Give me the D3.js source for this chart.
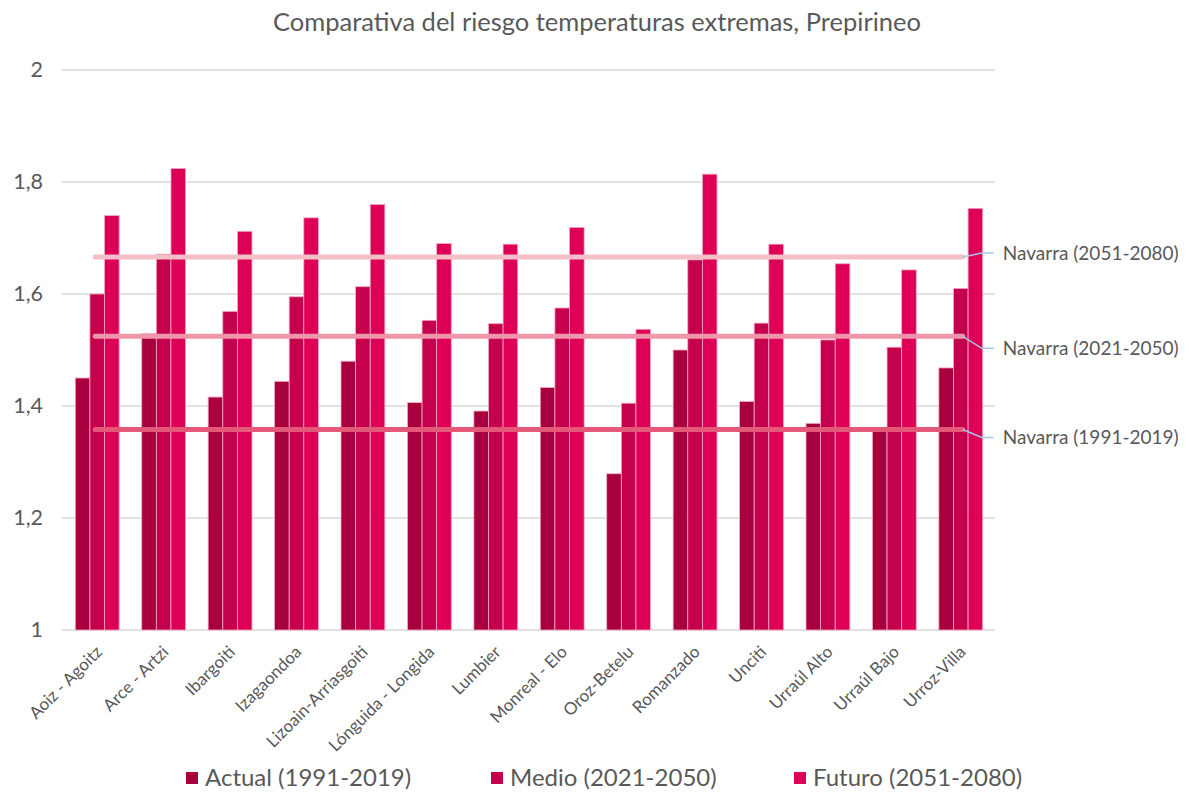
<!DOCTYPE html>
<html>
<head>
<meta charset="utf-8">
<script src="https://cdn.jsdelivr.net/npm/d3@7"></script>
<style>
  html, body { margin: 0; padding: 0; background: #fff; }
  svg { display: block; font-family: Lato, "Open Sans", sans-serif; }
</style>
</head>
<body>
<svg id="chart" width="1191" height="793"></svg>
<script>
// Municipios del Prepirineo
const municipios = [
  "Aoiz - Agoitz", "Arce - Artzi", "Ibargoiti", "Izagaondoa",
  "Lizoain-Arriasgoiti", "Lónguida - Longida", "Lumbier", "Monreal - Elo",
  "Oroz-Betelu", "Romanzado", "Unciti", "Urraúl Alto", "Urraúl Bajo", "Urroz-Villa"
];

// Índice de riesgo por periodo
const actual = [1.45, 1.529, 1.416, 1.444, 1.48, 1.406, 1.391, 1.433, 1.279, 1.50, 1.408, 1.369, 1.36, 1.468];
const medio  = [1.60, 1.671, 1.569, 1.595, 1.613, 1.553, 1.547, 1.575, 1.405, 1.661, 1.548, 1.518, 1.505, 1.61];
const futuro = [1.74, 1.824, 1.712, 1.736, 1.76, 1.69, 1.689, 1.719, 1.537, 1.814, 1.689, 1.654, 1.643, 1.753];

const seriesNames = ["Actual (1991-2019)", "Medio (2021-2050)", "Futuro (2051-2080)"];

// Media de Navarra por periodo
const navarraNames = ["Navarra (1991-2019)", "Navarra (2021-2050)", "Navarra (2051-2080)"];
const navarraValues = [1.358, 1.5245, 1.666];

const yTicks = [1, 1.2, 1.4, 1.6, 1.8, 2];

const seriesColors = ["#a8003f", "#c5004c", "#de0057"];
const navarraColors = ["#e4587a", "#ef96aa", "#f5bfca"];
const textColor = "#595959";
const fontFamily = "Lato, 'Open Sans', sans-serif";

const svg = d3.select("#chart");
const margin = { left: 64, right: 994, top: 70, bottom: 630 };

const x = d3.scaleBand().domain(municipios).range([margin.left, margin.right]).paddingInner(0.34).paddingOuter(0.17);
const xs = d3.scaleBand().domain(d3.range(3)).range([0, x.bandwidth()]);
const y = d3.scaleLinear().domain([1, 2]).range([margin.bottom, margin.top]);

// Título
svg.append("text")
  .attr("x", 597).attr("y", 31)
  .attr("text-anchor", "middle")
  .attr("fill", textColor)
  .attr("font-size", 25.5)
  .text("Comparativa del riesgo temperaturas extremas, Prepirineo");

// Líneas de cuadrícula
svg.append("g")
  .selectAll("line")
  .data(yTicks)
  .join("line")
  .attr("x1", 62).attr("x2", 995)
  .attr("y1", d => y(d)).attr("y2", d => y(d))
  .attr("stroke", "#d9d9d9")
  .attr("stroke-width", 1.5);

// Eje Y
const yAxis = svg.append("g")
  .attr("transform", "translate(43,0)")
  .call(d3.axisLeft(y).tickValues(yTicks).tickSize(0).tickPadding(0)
    .tickFormat(d => d3.format(".1f")(d).replace(".", ",").replace(/,0$/, "")));
yAxis.select(".domain").remove();
yAxis.selectAll("text")
  .attr("fill", textColor)
  .attr("font-size", 21.5)
  .attr("font-family", fontFamily);

// Barras
const rows = municipios.map((m, i) => ({ m, vals: [actual[i], medio[i], futuro[i]] }));
svg.append("g")
  .selectAll("g")
  .data(rows)
  .join("g")
  .attr("transform", d => `translate(${x(d.m)},0)`)
  .selectAll("rect")
  .data(d => d.vals.map((v, k) => ({ v, k })))
  .join("rect")
  .attr("x", d => xs(d.k))
  .attr("width", xs.bandwidth())
  .attr("y", d => y(d.v))
  .attr("height", d => y(1) - y(d.v))
  .attr("fill", d => seriesColors[d.k])
  .attr("stroke", "#f5a9c2")
  .attr("stroke-width", 0.8);

// Eje X
const xAxis = svg.append("g")
  .attr("transform", `translate(0,${margin.bottom})`)
  .call(d3.axisBottom(x).tickSize(0).tickPadding(0));
xAxis.select(".domain").remove();
xAxis.selectAll("text")
  .attr("fill", textColor)
  .attr("font-size", 17)
  .attr("font-family", fontFamily)
  .attr("text-anchor", "end")
  .attr("dy", 0)
  .attr("transform", "translate(6,23) rotate(-45)");

// Líneas de referencia de Navarra
const xStart = x(municipios[0]) + x.bandwidth() / 2 - 2;
const xEnd = x(municipios[municipios.length - 1]) + x.bandwidth() / 2 + 2;
const labelShift = [8, 12, -4];

const nav = svg.append("g");
navarraValues.forEach((v, i) => {
  nav.append("line")
    .attr("x1", xStart).attr("x2", xEnd)
    .attr("y1", y(v)).attr("y2", y(v))
    .attr("stroke", navarraColors[i])
    .attr("stroke-width", 5)
    .attr("stroke-linecap", "round");

  const ly = y(v) + labelShift[i];
  nav.append("polyline")
    .attr("points", [[xEnd, y(v)], [xEnd + 19, ly], [xEnd + 31, ly]].map(p => p.join(",")).join(" "))
    .attr("fill", "none")
    .attr("stroke", "#a9c8e4")
    .attr("stroke-width", 1.5);

  nav.append("text")
    .attr("x", xEnd + 40).attr("y", ly)
    .attr("dy", "0.35em")
    .attr("fill", textColor)
    .attr("font-size", 19)
    .text(navarraNames[i]);
});

// Leyenda
const legendX = [186, 491, 794];
const legend = svg.append("g");
seriesNames.forEach((n, i) => {
  legend.append("rect")
    .attr("x", legendX[i]).attr("y", 772)
    .attr("width", 12).attr("height", 12)
    .attr("fill", seriesColors[i]);
  legend.append("text")
    .attr("x", legendX[i] + 19).attr("y", 778)
    .attr("dy", "0.35em")
    .attr("fill", textColor)
    .attr("font-size", 24)
    .text(n);
});
</script>
</body>
</html>
